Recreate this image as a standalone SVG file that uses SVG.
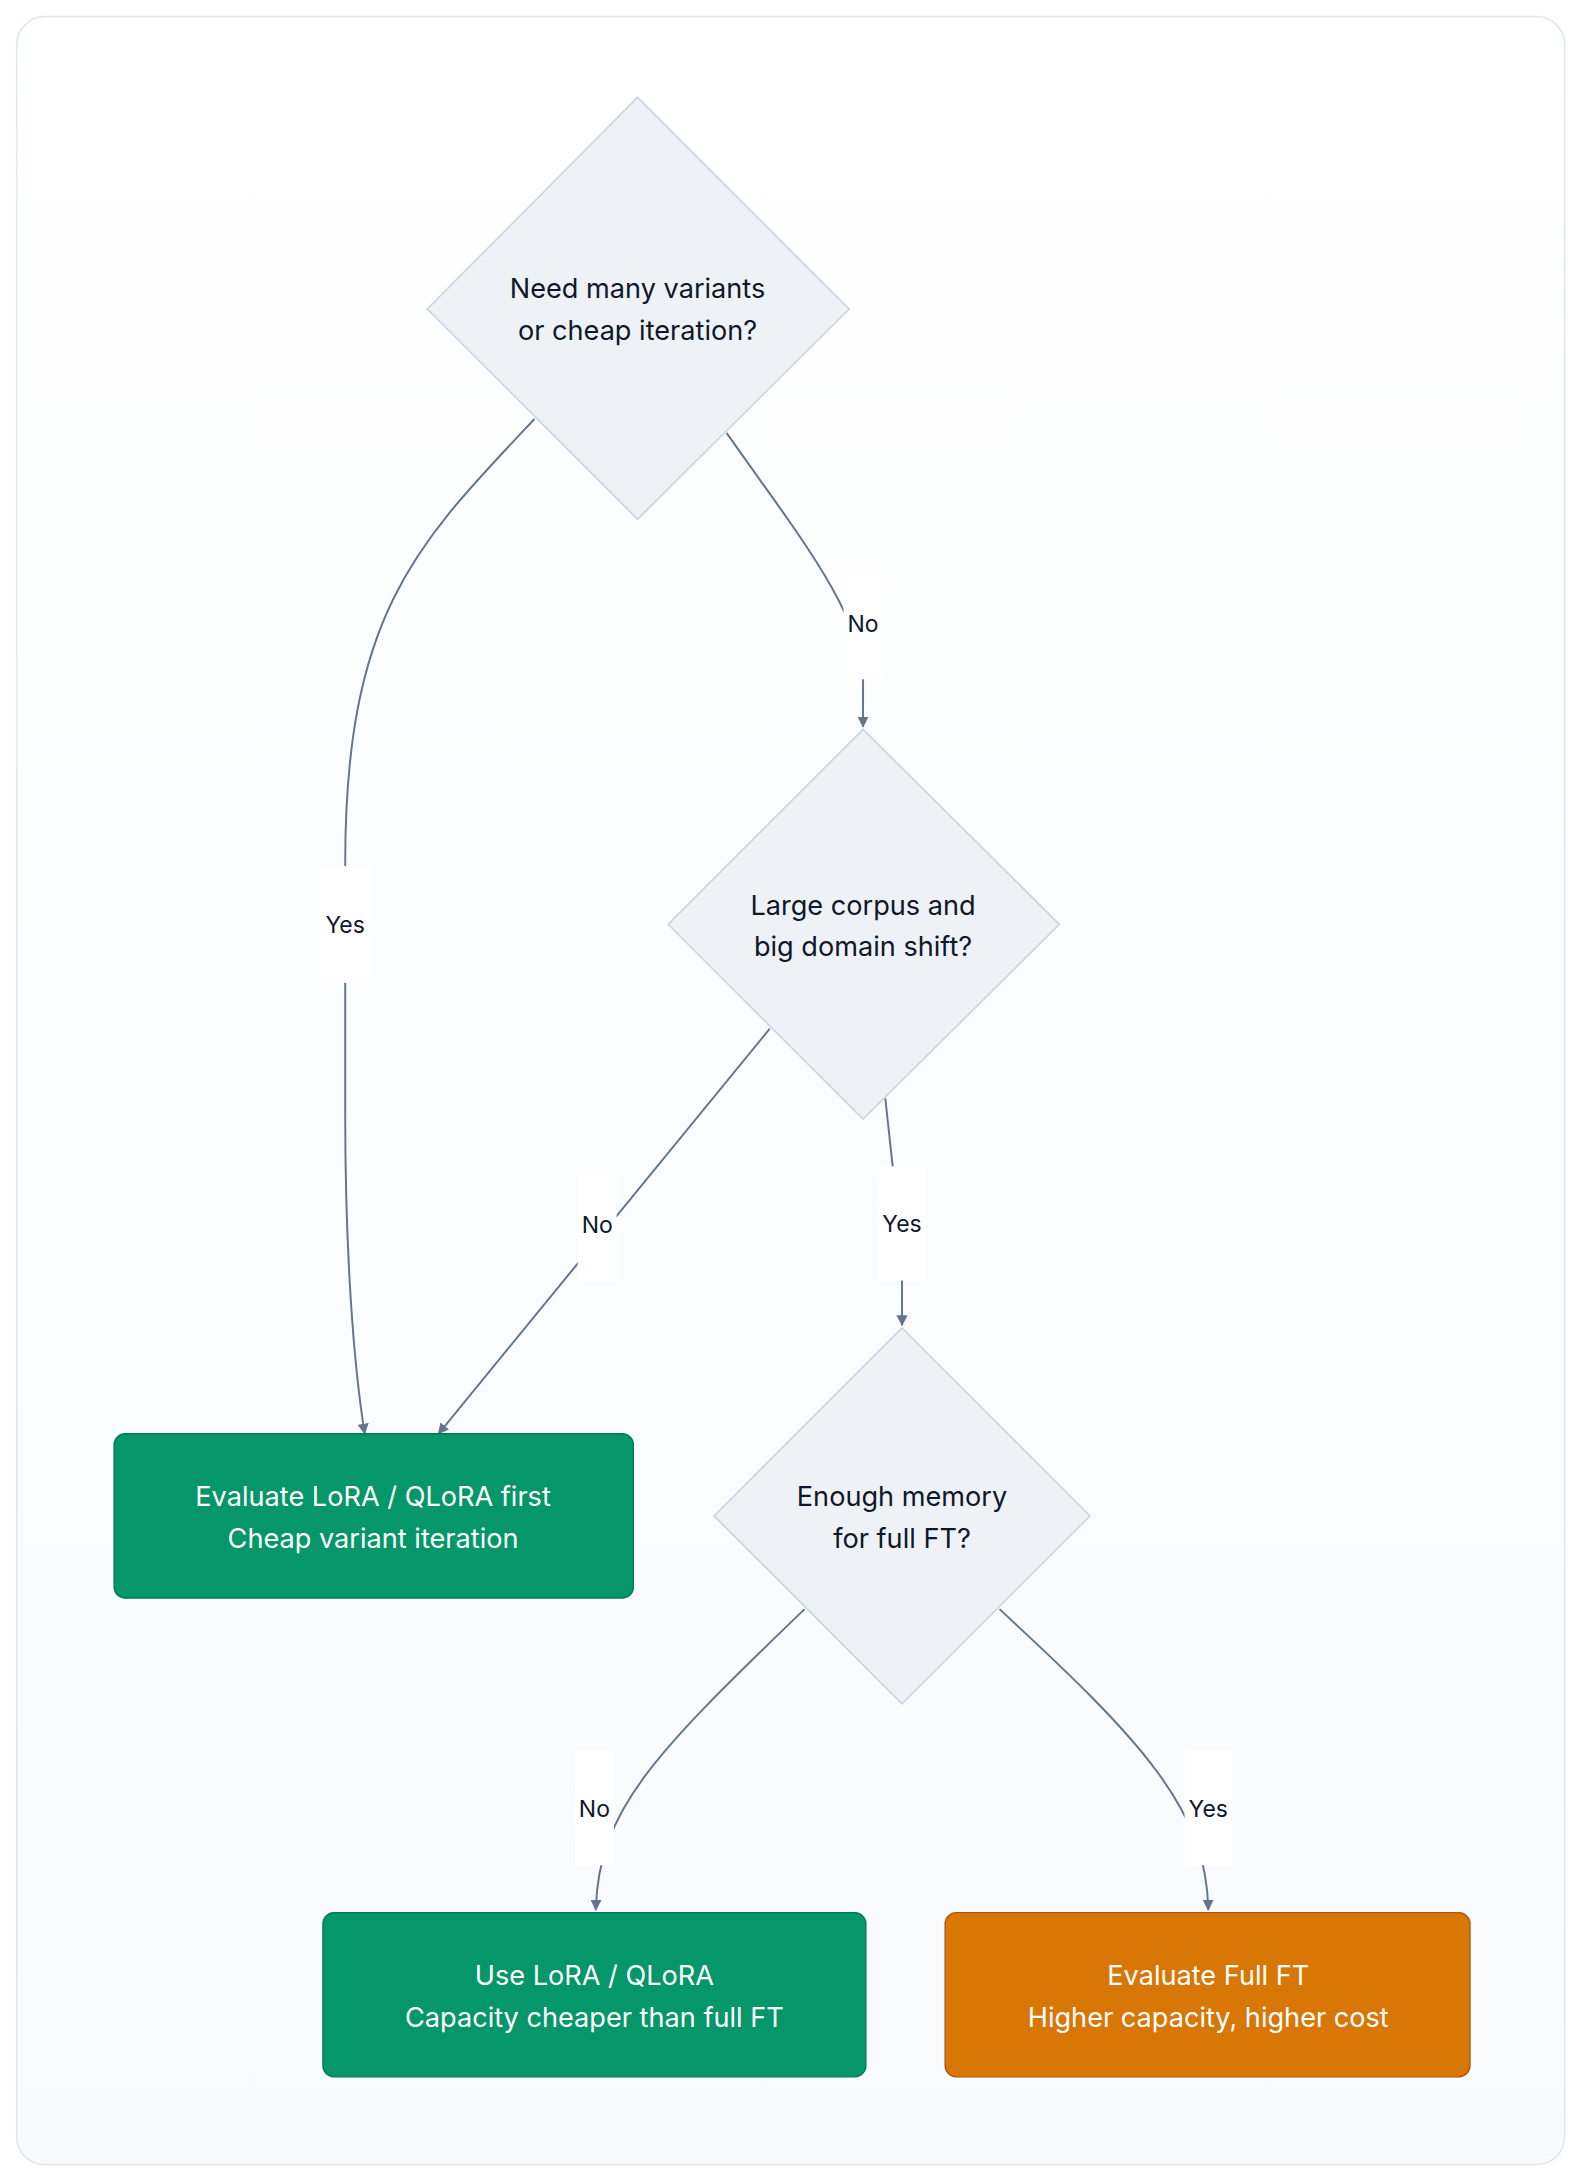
<svg xmlns="http://www.w3.org/2000/svg" width="1584" height="2184" viewBox="0 0 1584 2184">
<defs>
<linearGradient id="bg" x1="0" y1="0" x2="0" y2="1"><stop offset="0" stop-color="#ffffff"/><stop offset="1" stop-color="#f8fafc"/></linearGradient>
<marker id="arr" viewBox="0 0 10 10" refX="9" refY="5" markerWidth="8" markerHeight="8" orient="auto-start-reverse" markerUnits="userSpaceOnUse"><path d="M0,0 L10,5 L0,10 z" fill="#64748b"/></marker>
<style>
.dia{fill:#eef2f7;stroke:#cbd5e1;stroke-width:1.2}
.t{font-family:Inter,"Liberation Sans",sans-serif;font-size:19.5px;text-anchor:middle;fill:#0f172a}
.w{fill:#ffffff}
.e{fill:none;stroke:#64748b;stroke-width:1.4;marker-end:url(#arr)}
.lb{fill:#ffffff}
.l{font-family:Inter,"Liberation Sans",sans-serif;font-size:16.5px;text-anchor:middle;fill:#0f172a}
</style>
</defs>
<g transform="scale(1.392)">
<rect x="12" y="12" width="1112" height="1543" rx="20" fill="url(#bg)" stroke="#e2e8f0" stroke-width="1.2"/>
<g id="connectors">
<path class="e" d="M384,301 C300,390 248,440 248,620 L248,800 C248,900 254,980 262,1030"/>
<path class="e" d="M522,311 C570,380 620,440 620,490 L620,522"/>
<path class="e" d="M553,739 L315,1030"/>
<path class="e" d="M636,789 L648,900 L648,952"/>
<path class="e" d="M578,1156 C470,1260 430,1300 428,1372"/>
<path class="e" d="M718,1156 C820,1250 867,1300 868,1372"/>
<rect class="lb" x="230" y="622" width="36" height="84"/><text class="l" x="248" y="670">Yes</text>
<rect class="lb" x="606" y="412" width="28" height="76"/><text class="l" x="620" y="454">No</text>
<rect class="lb" x="415" y="840" width="28" height="80"/><text class="l" x="429" y="886">No</text>
<rect class="lb" x="631" y="838" width="34" height="82"/><text class="l" x="648" y="885">Yes</text>
<rect class="lb" x="413" y="1258" width="28" height="82"/><text class="l" x="427" y="1305">No</text>
<rect class="lb" x="851" y="1258" width="34" height="82"/><text class="l" x="868" y="1305">Yes</text>
</g>
<g id="d1"><polygon class="dia" points="458,70 610,222 458,373 307,222"/><text class="t" x="458" y="214">Need many variants</text><text class="t" x="458" y="244">or cheap iteration?</text></g>
<g id="d2"><polygon class="dia" points="620,524 761,664 620,804 480,664"/><text class="t" x="620" y="657">Large corpus and</text><text class="t" x="620" y="687">big domain shift?</text></g>
<g id="d3"><polygon class="dia" points="648,954 783,1089 648,1224 513,1089"/><text class="t" x="648" y="1082">Enough memory</text><text class="t" x="648" y="1112">for full FT?</text></g>
<g id="b1"><rect x="82" y="1030" width="373" height="118" rx="8" fill="#059669" stroke="#047857"/><text class="t w" x="268" y="1082">Evaluate LoRA / QLoRA first</text><text class="t w" x="268" y="1112">Cheap variant iteration</text></g>
<g id="b2"><rect x="232" y="1374" width="390" height="118" rx="8" fill="#059669" stroke="#047857"/><text class="t w" x="427" y="1426">Use LoRA / QLoRA</text><text class="t w" x="427" y="1456">Capacity cheaper than full FT</text></g>
<g id="b3"><rect x="679" y="1374" width="377" height="118" rx="8" fill="#d97706" stroke="#b45309"/><text class="t w" x="868" y="1426">Evaluate Full FT</text><text class="t w" x="868" y="1456">Higher capacity, higher cost</text></g>
</g>
</svg>
